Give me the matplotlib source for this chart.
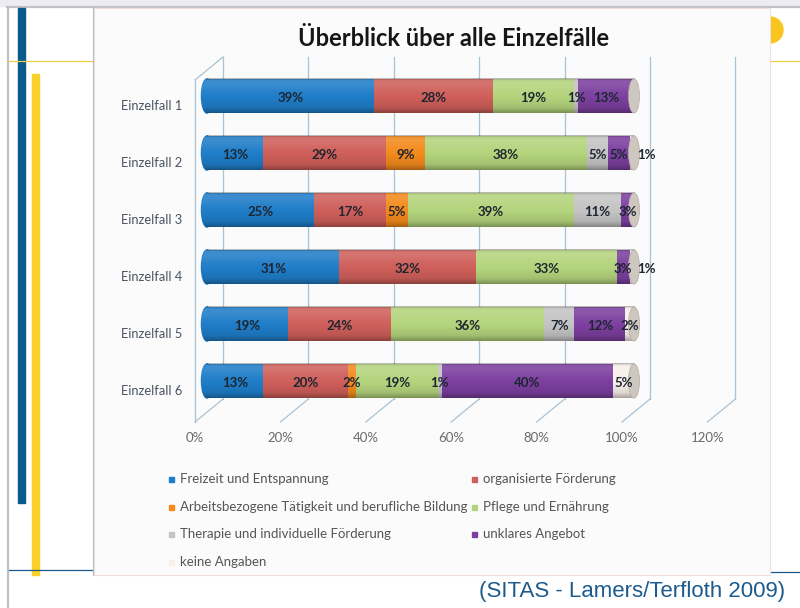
import numpy as np
import matplotlib
matplotlib.use("Agg")
import matplotlib.pyplot as plt
from matplotlib.patches import Rectangle, Ellipse, Circle
import matplotlib.transforms as mtransforms

# ---------------- data ----------------
cases = ["Einzelfall 1", "Einzelfall 2", "Einzelfall 3",
         "Einzelfall 4", "Einzelfall 5", "Einzelfall 6"]
categories = ["Freizeit und Entspannung",
              "organisierte Förderung",
              "Arbeitsbezogene Tätigkeit und berufliche Bildung",
              "Pflege und Ernährung",
              "Therapie und individuelle Förderung",
              "unklares Angebot",
              "keine Angaben"]
freizeit = [39, 13, 25, 31, 19, 13]
organisiert = [28, 29, 17, 32, 24, 20]
arbeit = [0, 9, 5, 0, 0, 2]
pflege = [19, 38, 39, 33, 36, 19]
therapie = [1, 5, 11, 0, 7, 1]
unklar = [13, 5, 3, 3, 12, 40]
keine = [0, 1, 0, 1, 2, 5]
x_ticks = [0, 20, 40, 60, 80, 100, 120]
x_tick_labels = ["0%", "20%", "40%", "60%", "80%", "100%", "120%"]
title = "Überblick über alle Einzelfälle"
source = "(SITAS - Lamers/Terfloth 2009)"

series = [freizeit, organisiert, arbeit, pflege, therapie, unklar, keine]
colors = ["#1f7dc8", "#cf5f5a", "#f38a1c", "#b4d47c", "#c4c4c4", "#7c3f9f", "#f8f0ea"]

FONT = ["Lato", "DejaVu Sans"]
plt.rcParams["font.family"] = FONT

W, H = 800, 608
fig = plt.figure(figsize=(W / 100, H / 100), dpi=100)

# decoration layer in pixel coordinates
deco = fig.add_axes([0, 0, 1, 1], zorder=0)
deco.set_xlim(0, W)
deco.set_ylim(H, 0)
deco.axis("off")

# slide frame
deco.add_patch(Rectangle((0, 0), W, 6, color="#ececf2", zorder=0))
deco.plot([7, W], [7, 7], color="#c2c2c6", lw=1.6, zorder=1)
deco.plot([8, 8], [7, H], color="#c0c0c0", lw=1.6, zorder=1)
deco.add_patch(Circle((770, 30), 13, color="#f9c51e", zorder=1))
deco.add_patch(Rectangle((18, 8), 7, 495, color="#0b5a8c", zorder=2))
deco.add_patch(Rectangle((32, 74), 7, 501, color="#fcd02a", zorder=2))
deco.plot([9, 93], [61, 61], color="#f8cc40", lw=0.9, zorder=3)
deco.plot([770, W], [61, 61], color="#f8cc40", lw=0.9, zorder=3)
deco.plot([9, 93], [570, 570], color="#1a5a8c", lw=0.9, zorder=3)
deco.plot([770, W], [572, 572], color="#1a5a8c", lw=0.9, zorder=3)
# chart picture background
deco.add_patch(Rectangle((94, 8), 676, 567, facecolor="#fbfbfc",
                         edgecolor="#efe2dc", lw=0.8, zorder=4))
deco.plot([93, 93], [8, 575], color="#b8bcc4", lw=0.8, zorder=5)

deco.text(785, 592, source, ha="right", va="center", fontsize=16,
          family=["Liberation Sans", "DejaVu Sans"], color="#1d5b8e", zorder=6)
deco.text(454, 38, title, ha="center", va="center", fontsize=17,
          fontweight="bold", color="#161616", zorder=6)

# main bar axes
ax = fig.add_axes([0.23206, 0.30592, 0.69388, 0.60033], zorder=1)
ax.patch.set_visible(False)
for s in ax.spines.values():
    s.set_visible(False)
ax.set_xticks([])
ax.set_yticks([])
XL = (-5, 125)
YL = (5.7193, -0.6842)
ax.set_xlim(*XL)
ax.set_ylim(*YL)

fig.canvas.draw()


def xpx(v):
    return ax.transData.transform((v, 0))[0]


# back wall grid lines + floor diagonals + left wall
grid_c = "#a9c3d3"
top_y, back_y, front_y = 57, 399, 422
for v, lab in zip(x_ticks, x_tick_labels):
    bx = xpx(v) + 16
    fx = xpx(v) - 12
    deco.plot([bx, bx], [top_y, back_y], color=grid_c, lw=0.9, zorder=6)
    deco.plot([bx, fx], [back_y, front_y], color=grid_c, lw=0.9, zorder=6)
    deco.text(fx, 438, lab, ha="center", va="center", fontsize=9.5,
              color="#6a6a6a", zorder=6)
lx = xpx(0) - 12
deco.plot([lx, lx], [80, front_y], color=grid_c, lw=0.9, zorder=6)
deco.plot([lx, xpx(0) + 16], [80, top_y], color=grid_c, lw=0.9, zorder=6)

# bars
y = np.arange(len(cases))
bh = 0.6
left = np.zeros(len(cases))
lab_kw = dict(ha="center", va="center", fontsize=9.5, fontweight="bold",
              color="#1d2530", zorder=5)
for k, (vals, col) in enumerate(zip(series, colors)):
    vals = np.array(vals, dtype=float)
    ax.barh(y, vals, left=left, height=bh, color=col, edgecolor="none", zorder=2)
    for j, v in enumerate(vals):
        if v <= 0:
            continue
        if k == len(series) - 1 and v <= 1:
            ax.annotate(f"{int(v)}%", xy=(left[j] + v, y[j] + 0.04),
                        xytext=(9, 0), textcoords="offset points", **lab_kw)
        else:
            ax.text(left[j] + v / 2, y[j] + 0.04, f"{int(v)}%", **lab_kw)
    left += vals

totals = left.copy()
first_col = []
for j in range(len(cases)):
    for vals, col in zip(series, colors):
        if vals[j] > 0:
            first_col.append(col)
            break

# cylinder shading (subtle)
t = np.linspace(0, 1, 60)
prof_white = np.interp(t, [0, 0.06, 0.2, 0.4, 0.55, 1], [0, 0.14, 0.12, 0.04, 0, 0])
prof_dark = np.interp(t, [0, 0.05, 0.1, 0.55, 0.85, 1], [0.3, 0.05, 0, 0, 0.1, 0.32])
grad = np.zeros((60, 1, 4))
grad[..., 0:3] = (prof_white / np.maximum(prof_white + prof_dark, 1e-6))[:, None, None]
grad[..., 3] = (prof_white + prof_dark)[:, None]

cap_w = 2.6
for j in range(len(cases)):
    lcap = Ellipse((0, y[j]), cap_w, bh, color=first_col[j], zorder=1.9)
    ax.add_patch(lcap)
    im_cap = ax.imshow(grad, extent=(-cap_w / 2, cap_w / 2, y[j] + bh / 2, y[j] - bh / 2),
                       aspect="auto", origin="upper", zorder=1.95,
                       interpolation="bilinear")
    im_cap.set_clip_path(lcap)
    ax.imshow(grad, extent=(0, totals[j], y[j] + bh / 2, y[j] - bh / 2),
              aspect="auto", origin="upper", zorder=2.5, interpolation="bilinear")
    ax.add_patch(Ellipse((totals[j], y[j]), cap_w, bh, facecolor="#cec7bf",
                         edgecolor="#b5ada5", lw=0.5, zorder=3))

ax.set_xlim(*XL)
ax.set_ylim(*YL)

# category labels
lab_tr = mtransforms.offset_copy(ax.transData, fig=fig, x=-25, y=-10, units="dots")
for j, name in enumerate(cases):
    ax.text(0, y[j], name, transform=lab_tr, ha="right", va="center",
            fontsize=9.3, color="#4a5561", zorder=5)

# legend (two columns, row-major order)
col_x = [171, 474]
row_y = [479, 507, 534, 562]
for k, (name, col) in enumerate(zip(categories, colors)):
    r, c = divmod(k, 2)
    deco.add_patch(Rectangle((col_x[c] - 2.5, row_y[r] - 2.5), 5, 5,
                             color=col, zorder=6))
    deco.text(col_x[c] + 9, row_y[r], name, ha="left", va="center",
              fontsize=9.5, color="#555555", zorder=6)

fig.savefig("out.png", dpi=100)
